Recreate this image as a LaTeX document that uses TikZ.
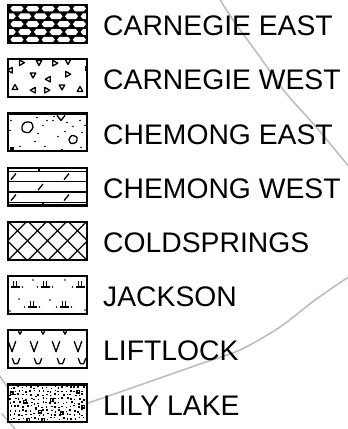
\documentclass[tikz,border=0pt]{standalone}
\usepackage{fontspec}
\setmainfont{Liberation Sans}
\definecolor{bndgray}{RGB}{190,190,190}
\newcommand\lgTriR[2]{\draw[patline] ({#1-2.3},{#2-2.8}) -- ({#1+2.7},{#2}) -- ({#1-2.3},{#2+2.8}) -- cycle;}
\newcommand\lgTriL[2]{\draw[patline] ({#1+2.3},{#2-2.8}) -- ({#1-2.7},{#2}) -- ({#1+2.3},{#2+2.8}) -- cycle;}
\newcommand\lgTriD[2]{\draw[patline] ({#1-2.8},{#2-2.3}) -- ({#1+2.8},{#2-2.3}) -- ({#1},{#2+2.7}) -- cycle;}
\newcommand\lgTriU[2]{\draw[patline] ({#1-2.8},{#2+2.3}) -- ({#1+2.8},{#2+2.3}) -- ({#1},{#2-2.7}) -- cycle;}
\newcommand\lgJack[2]{\draw[patline] ({#1-1.6},{#2-5}) -- ({#1-1.6},{#2+1}) ({#1+1.6},{#2-5}) -- ({#1+1.6},{#2+1}) ({#1-4.5},{#2+1}) -- ({#1+4.5},{#2+1});
  \fill ({#1-7.5},{#2+1}) circle (0.9) ({#1+7.5},{#2+1}) circle (0.9);}
\begin{document}
\begin{tikzpicture}[x=1pt,y=-1pt,
  legbox/.style={draw=black, line width=2.2pt, fill=white, minimum width=78.8pt, minimum height=37.8pt, inner sep=0pt, outer sep=0pt},
  legtext/.style={anchor=west, inner sep=0pt, font=\fontsize{28.3pt}{30pt}\selectfont, text height=20.3pt, text depth=0pt},
  bnd/.style={draw=bndgray, line width=1.6pt, line cap=round},
  patline/.style={line width=1.3pt, line join=round},
]
\useasboundingbox (0,0) rectangle (348,429);
% boundary lines (background)
\draw[bnd] plot[smooth] coordinates {(219,-2) (233,20) (260,57) (285,92) (317,128) (350,168)};
\draw[bnd] plot[smooth] coordinates {(350,276) (315,300) (280,327) (240,350) (200,364) (160,378) (120,392) (88,403) (60,412)};
\draw[bnd] (-1,375) -- (20,405);
\draw[bnd] (2,414) -- (17,431);

% boxes
\node[legbox] (b1) at (47.5,24) {};
\node[legbox] (b2) at (47.5,78.2) {};
\node[legbox] (b3) at (47.5,132.4) {};
\node[legbox] (b4) at (47.5,186.6) {};
\node[legbox] (b5) at (47.5,240.8) {};
\node[legbox] (b6) at (47.5,295) {};
\node[legbox] (b7) at (47.5,349.2) {};
\node[legbox] (b8) at (47.5,403.4) {};

% 1 CARNEGIE EAST
\begin{scope}[shift={(7,4)}]
  \clip (1.8,1.8) rectangle (79.2,38.2);
  \fill[black] (0,0) rectangle (81,40);
  \foreach \j in {-1,...,5}{
    \foreach \k in {-1,...,5}{
      \pgfmathsetmacro\cx{10+\k*15.6+mod(\j+2,2)*7.8}
      \pgfmathsetmacro\cy{4.5+\j*7.8}
      \fill[white] (\cx-6.6,\cy) -- (\cx-4.2,\cy-2.9) -- (\cx+4.2,\cy-2.9) -- (\cx+6.6,\cy) -- (\cx+4.2,\cy+2.9) -- (\cx-4.2,\cy+2.9) -- cycle;
    }
  }
\end{scope}

% 2 CARNEGIE WEST
\begin{scope}[shift={(7,58.2)}]
  \clip (1.8,1.8) rectangle (79.2,38.2);
  \lgTriR{14.7}{4.5} \lgTriD{32}{4.5} \lgTriR{48}{5} \lgTriD{61}{3.5}
  \draw[patline] (12.2,1) -- (12.2,7);
  \fill (77.5,8) rectangle (80,13);
  \lgTriL{3}{12} \lgTriD{26}{17} \lgTriL{41}{21} \lgTriR{61}{16}
  \lgTriU{8}{29} \lgTriL{26}{32} \lgTriR{40}{32} \lgTriD{55}{29} \lgTriU{73}{31}
\end{scope}

% 3 CHEMONG EAST
\begin{scope}[shift={(7,112.4)}]
  \clip (1.8,1.8) rectangle (79.2,38.2);
  \draw[patline] plot[smooth cycle] coordinates {(15,14) (18,10) (24,10) (26,15) (22,20) (16,19)};
  \draw[patline] plot[smooth cycle] coordinates {(62,27) (65,23) (70,25) (69,30) (64,31)};
  \draw[patline] (50,3) -- (54,8) -- (58,3);
  \foreach \p in {(3,18),(31,21),(36,13),(40,8),(46,8),(51,24),(58,19),(28,29),(55,37),(13,34),(73,8),(66,14),(4,8),(47,4),(75,20),(38,34),(74,35),(78,13),(30,5),(60,10)}
    \fill \p circle (0.9);
  \fill (3,35) rectangle (7,39);
\end{scope}

% 4 CHEMONG WEST
\begin{scope}[shift={(7,166.6)}]
  \clip (1.8,1.8) rectangle (79.2,38.2);
  \draw[patline] (0,5) -- (81,5) (0,15) -- (81,15) (0,25.5) -- (81,25.5) (0,36) -- (81,36);
  \draw[patline] (32,1) -- (32,5) (36,36) -- (36,40);
  \draw[patline] (4,13) -- (9,7) (57,13) -- (62,7) (31,23.5) -- (36,17.5) (4,34) -- (9,28) (57,34) -- (62,28);
\end{scope}

% 5 COLDSPRINGS
\begin{scope}[shift={(7,220.8)}]
  \clip (1.8,1.8) rectangle (79.2,38.2);
  \foreach \c in {-60,-40,...,100}{
    \draw[patline] (\c+0.5,0) -- (\c+40.5,40);
    \draw[patline] (\c+0.5,40) -- (\c+40.5,0);
  }
\end{scope}

% 6 JACKSON
\begin{scope}[shift={(7,275)}]
  \clip (1.8,1.8) rectangle (79.2,38.2);
  \lgJack{8}{11} \lgJack{38}{11} \lgJack{73}{11}
  \lgJack{25}{31} \lgJack{57}{31}
  \fill (26,5) circle (0.9) (58,5) circle (0.9) (12,24) circle (0.9) (43,25) circle (0.9) (3,36) circle (0.9) (78,35) circle (0.9);
\end{scope}

% 7 LIFTLOCK
\begin{scope}[shift={(7,329.2)}]
  \clip (1.8,1.8) rectangle (79.2,38.2);
  \foreach \x in {13,36,58}{\draw[patline] (\x-1.6,2) -- (\x,5) -- (\x+1.6,2);}
  \foreach \x in {5,27,49,71}{\draw[patline] (\x-3.8,12) -- (\x,22.5) -- (\x+3.8,12);}
  \foreach \x in {9,31,54,75}{\draw[patline] (\x-3.8,29) -- (\x-1.6,34.5) -- (\x+1.6,34.5) -- (\x+3.8,29);}
\end{scope}

% 8 LILY LAKE
\begin{scope}[shift={(7,383.4)}]
  \clip (1.8,1.8) rectangle (79.2,38.2);
  \pgfmathsetseed{11}
  \foreach \gx in {0,...,19}{
    \foreach \gy in {0,...,9}{
      \pgfmathsetmacro\rx{2+\gx*4+2.4*rnd}
      \pgfmathsetmacro\ry{2+\gy*3.9+2.4*rnd}
      \fill (\rx,\ry) rectangle ++(1.5,1.5);
    }
  }
  \foreach \p in {(4.7,10),(18,18.3),(44.7,16.6),(71.3,8.3),(33,28.3),(54.7,30),(21.3,36.6),(36.3,36.6),(76.3,23.3)}{
    \fill \p ++(-2,-2) rectangle ++(4,4);
    \fill[white] \p ++(-0.6,-0.6) rectangle ++(1.2,1.2);
  }
\end{scope}

% redraw borders on top
\foreach \b in {b1,b2,b3,b4,b5,b6,b7,b8}{
  \draw[line width=2.2pt] (\b.north west) rectangle (\b.south east);
}

% labels
\node[legtext] (t1) at (103,25.5) {CARNEGIE EAST};
\node[legtext] (t2) at (103,79.7) {CARNEGIE WEST};
\node[legtext] (t3) at (103,133.9) {CHEMONG EAST};
\node[legtext] (t4) at (103,188.1) {CHEMONG WEST};
\node[legtext] (t5) at (103,242.3) {COLDSPRINGS};
\node[legtext] (t6) at (103,296.5) {JACKSON};
\node[legtext] (t7) at (103,350.7) {LIFTLOCK};
\node[legtext] (t8) at (103,404.9) {LILY LAKE};
\end{tikzpicture}
\end{document}
